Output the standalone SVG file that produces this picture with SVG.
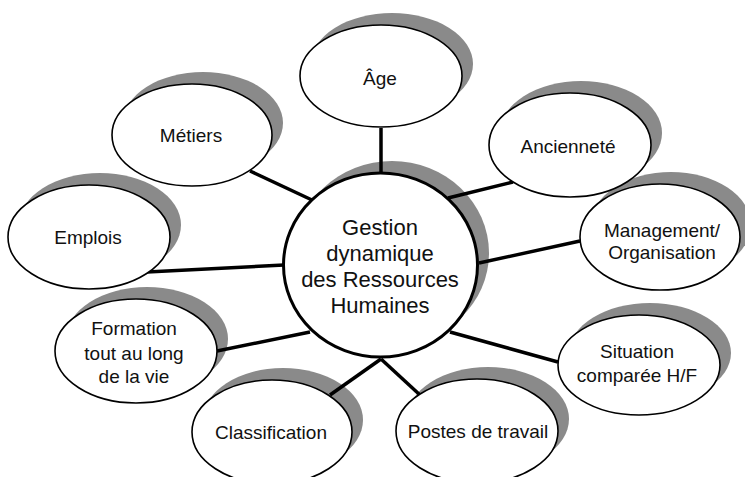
<svg xmlns="http://www.w3.org/2000/svg" width="745" height="477" viewBox="0 0 745 477">
<style>
.sh{fill:#8a8a8a;stroke:none}
.el{fill:#fff;stroke:#000;stroke-width:1.6}
.ctr{fill:#fff;stroke:#000;stroke-width:3}
.t{font-family:"Liberation Sans",Arial,sans-serif;font-size:19px;fill:#111;text-anchor:middle}
.tc{font-family:"Liberation Sans",Arial,sans-serif;font-size:22px;fill:#111;text-anchor:middle}
.cn line{stroke:#000;stroke-width:3.5;stroke-linecap:butt}
</style>
<rect width="745" height="477" fill="#fff"/>
<g id="shadows">
<ellipse class="sh" cx="392" cy="64" rx="81" ry="51"/>
<ellipse class="sh" cx="203" cy="123" rx="80" ry="51"/>
<ellipse class="sh" cx="100" cy="225" rx="81" ry="52"/>
<ellipse class="sh" cx="581" cy="133" rx="81" ry="52"/>
<ellipse class="sh" cx="671" cy="225" rx="80" ry="53"/>
<ellipse class="sh" cx="650" cy="353" rx="81" ry="50"/>
<ellipse class="sh" cx="488" cy="419" rx="81" ry="52"/>
<ellipse class="sh" cx="283" cy="420" rx="80" ry="52"/>
<ellipse class="sh" cx="147" cy="339" rx="81" ry="52"/>
<ellipse class="sh" cx="392" cy="253" rx="97" ry="92"/>
</g>
<g id="connectors" class="cn">
<line x1="381" y1="128" x2="381" y2="173"/>
<line x1="250" y1="171" x2="312" y2="200"/>
<line x1="147" y1="272" x2="284" y2="265"/>
<line x1="217" y1="351" x2="310" y2="332"/>
<line x1="381" y1="359" x2="330" y2="395"/>
<line x1="381" y1="359" x2="420" y2="395"/>
<line x1="450" y1="332" x2="558" y2="362"/>
<line x1="479" y1="263" x2="580" y2="241"/>
<line x1="448" y1="198" x2="513" y2="182"/>
</g>
<g id="center">
<ellipse class="ctr" cx="380.5" cy="265" rx="97" ry="92"/>
<text class="tc" x="380" y="235">Gestion</text>
<text class="tc" x="380" y="261">dynamique</text>
<text class="tc" x="380" y="287">des Ressources</text>
<text class="tc" x="380" y="313">Humaines</text>
</g>
<g id="age">
<ellipse class="el" cx="381" cy="76" rx="81" ry="51"/>
<text class="t" x="380" y="85">Âge</text>
</g>
<g id="metiers">
<ellipse class="el" cx="192" cy="135" rx="80" ry="51"/>
<text class="t" x="191" y="142">Métiers</text>
</g>
<g id="emplois">
<ellipse class="el" cx="89" cy="237" rx="81" ry="52"/>
<text class="t" x="88" y="244">Emplois</text>
</g>
<g id="anciennete">
<ellipse class="el" cx="570" cy="145" rx="81" ry="52"/>
<text class="t" x="568" y="153">Ancienneté</text>
</g>
<g id="management">
<ellipse class="el" cx="660" cy="237" rx="80" ry="53"/>
<text class="t" x="662" y="237">Management/</text>
<text class="t" x="662" y="259">Organisation</text>
</g>
<g id="situation">
<ellipse class="el" cx="639" cy="365" rx="81" ry="50"/>
<text class="t" x="637" y="358">Situation</text>
<text class="t" x="637" y="382">comparée H/F</text>
</g>
<g id="postes">
<ellipse class="el" cx="477" cy="431" rx="81" ry="52"/>
<text class="t" x="478" y="438">Postes de travail</text>
</g>
<g id="classification">
<ellipse class="el" cx="272" cy="432" rx="80" ry="52"/>
<text class="t" x="271" y="439">Classification</text>
</g>
<g id="formation">
<ellipse class="el" cx="136" cy="351" rx="81" ry="52"/>
<text class="t" x="134" y="335">Formation</text>
<text class="t" x="134" y="360">tout au long</text>
<text class="t" x="134" y="383">de la vie</text>
</g>
</svg>
